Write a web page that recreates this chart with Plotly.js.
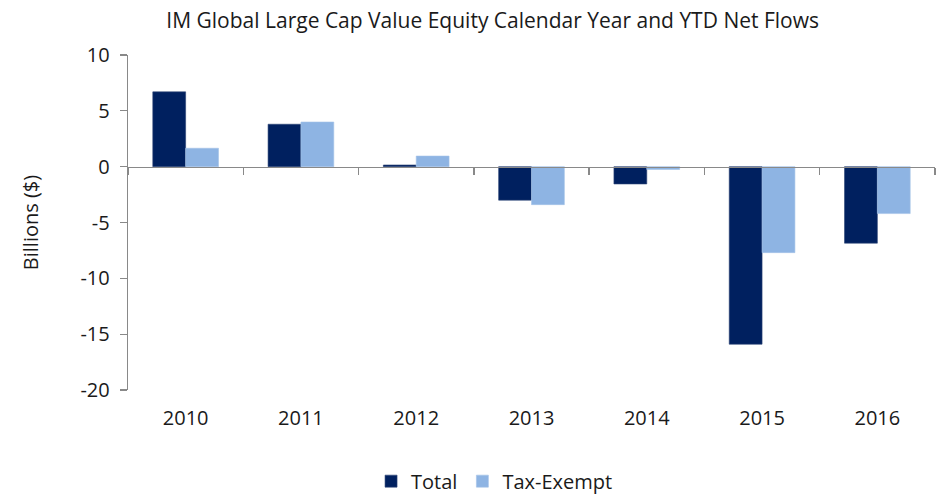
<!DOCTYPE html>
<html>
<head>
<meta charset="utf-8">
<script src="https://cdn.plot.ly/plotly-3.0.1.min.js"></script>
<style>html,body{margin:0;padding:0;background:#fff;}#chart{width:942px;height:495px;}</style>
</head>
<body>
<div id="chart"></div>
<script>
const years = ["2010", "2011", "2012", "2013", "2014", "2015", "2016"];
const totalFlows = [6.7, 3.8, 0.15, -3.0, -1.55, -15.9, -6.85];
const taxExemptFlows = [1.65, 4.0, 0.95, -3.4, -0.25, -7.7, -4.2];
const yTicks = [10, 5, 0, -5, -10, -15, -20];

const FONT = "Open Sans, Noto Sans, sans-serif";
const AXIS = "#898989";
const TXT = "#1a1a1a";

const traces = [
  {type: "bar", name: "Total", x: years, y: totalFlows,
   marker: {color: "#00205F", line: {color: "#2E4475", width: 0.6}}, hoverinfo: "skip"},
  {type: "bar", name: "Tax-Exempt", x: years, y: taxExemptFlows,
   marker: {color: "#8EB4E3", line: {color: "#A4C2E8", width: 0.6}}, hoverinfo: "skip"},
  {type: "scatter", mode: "markers", x: years, y: totalFlows, xaxis: "x2",
   marker: {opacity: 0}, showlegend: false, hoverinfo: "skip"}
];

const layout = {
  width: 942, height: 495,
  margin: {l: 128, r: 7, t: 55, b: 105},
  paper_bgcolor: "#fff", plot_bgcolor: "#fff",
  font: {family: FONT, size: 20, color: TXT},
  title: {text: "IM Global Large Cap Value Equity Calendar Year and YTD Net Flows",
          x: 0.523, xref: "container", xanchor: "center", y: 0.958, yanchor: "middle",
          font: {family: FONT, size: 21, color: TXT}},
  barmode: "group", bargap: 0.43, bargroupgap: 0,
  xaxis: {type: "category", categoryorder: "array", categoryarray: years,
          range: [-0.5, 6.5], showline: false, showgrid: false, zeroline: false,
          ticks: "outside", ticklen: 10, tickcolor: "rgba(0,0,0,0)",
          tickfont: {family: FONT, size: 20, color: TXT}, fixedrange: true},
  xaxis2: {type: "category", categoryorder: "array", categoryarray: years,
           overlaying: "x", anchor: "free", position: 2/3, range: [-0.5, 6.5],
           showline: true, linecolor: AXIS, linewidth: 1.3,
           ticks: "outside", tickson: "boundaries", ticklen: 7, tickcolor: AXIS, tickwidth: 1.3,
           showticklabels: false, showgrid: false, zeroline: false},
  yaxis: {range: [-20, 10], tickvals: yTicks, ticktext: yTicks.map(String),
          showline: true, linecolor: AXIS, linewidth: 1.3,
          ticks: "outside", ticklen: 7, tickcolor: AXIS, tickwidth: 1.3,
          ticklabelstandoff: 6,
          showgrid: false, zeroline: false,
          tickfont: {family: FONT, size: 20, color: TXT},
          title: {text: "Billions ($)", standoff: 36, font: {family: FONT, size: 20, color: TXT}}},
  legend: {orientation: "h", x: 0.525, xanchor: "center", xref: "container",
           y: 0.028, yref: "container", yanchor: "middle",
           font: {family: FONT, size: 20, color: TXT},
           itemwidth: 30, tracegroupgap: 0},
  showlegend: true
};

Plotly.newPlot("chart", traces, layout, {staticPlot: true, displayModeBar: false});
</script>
</body>
</html>
